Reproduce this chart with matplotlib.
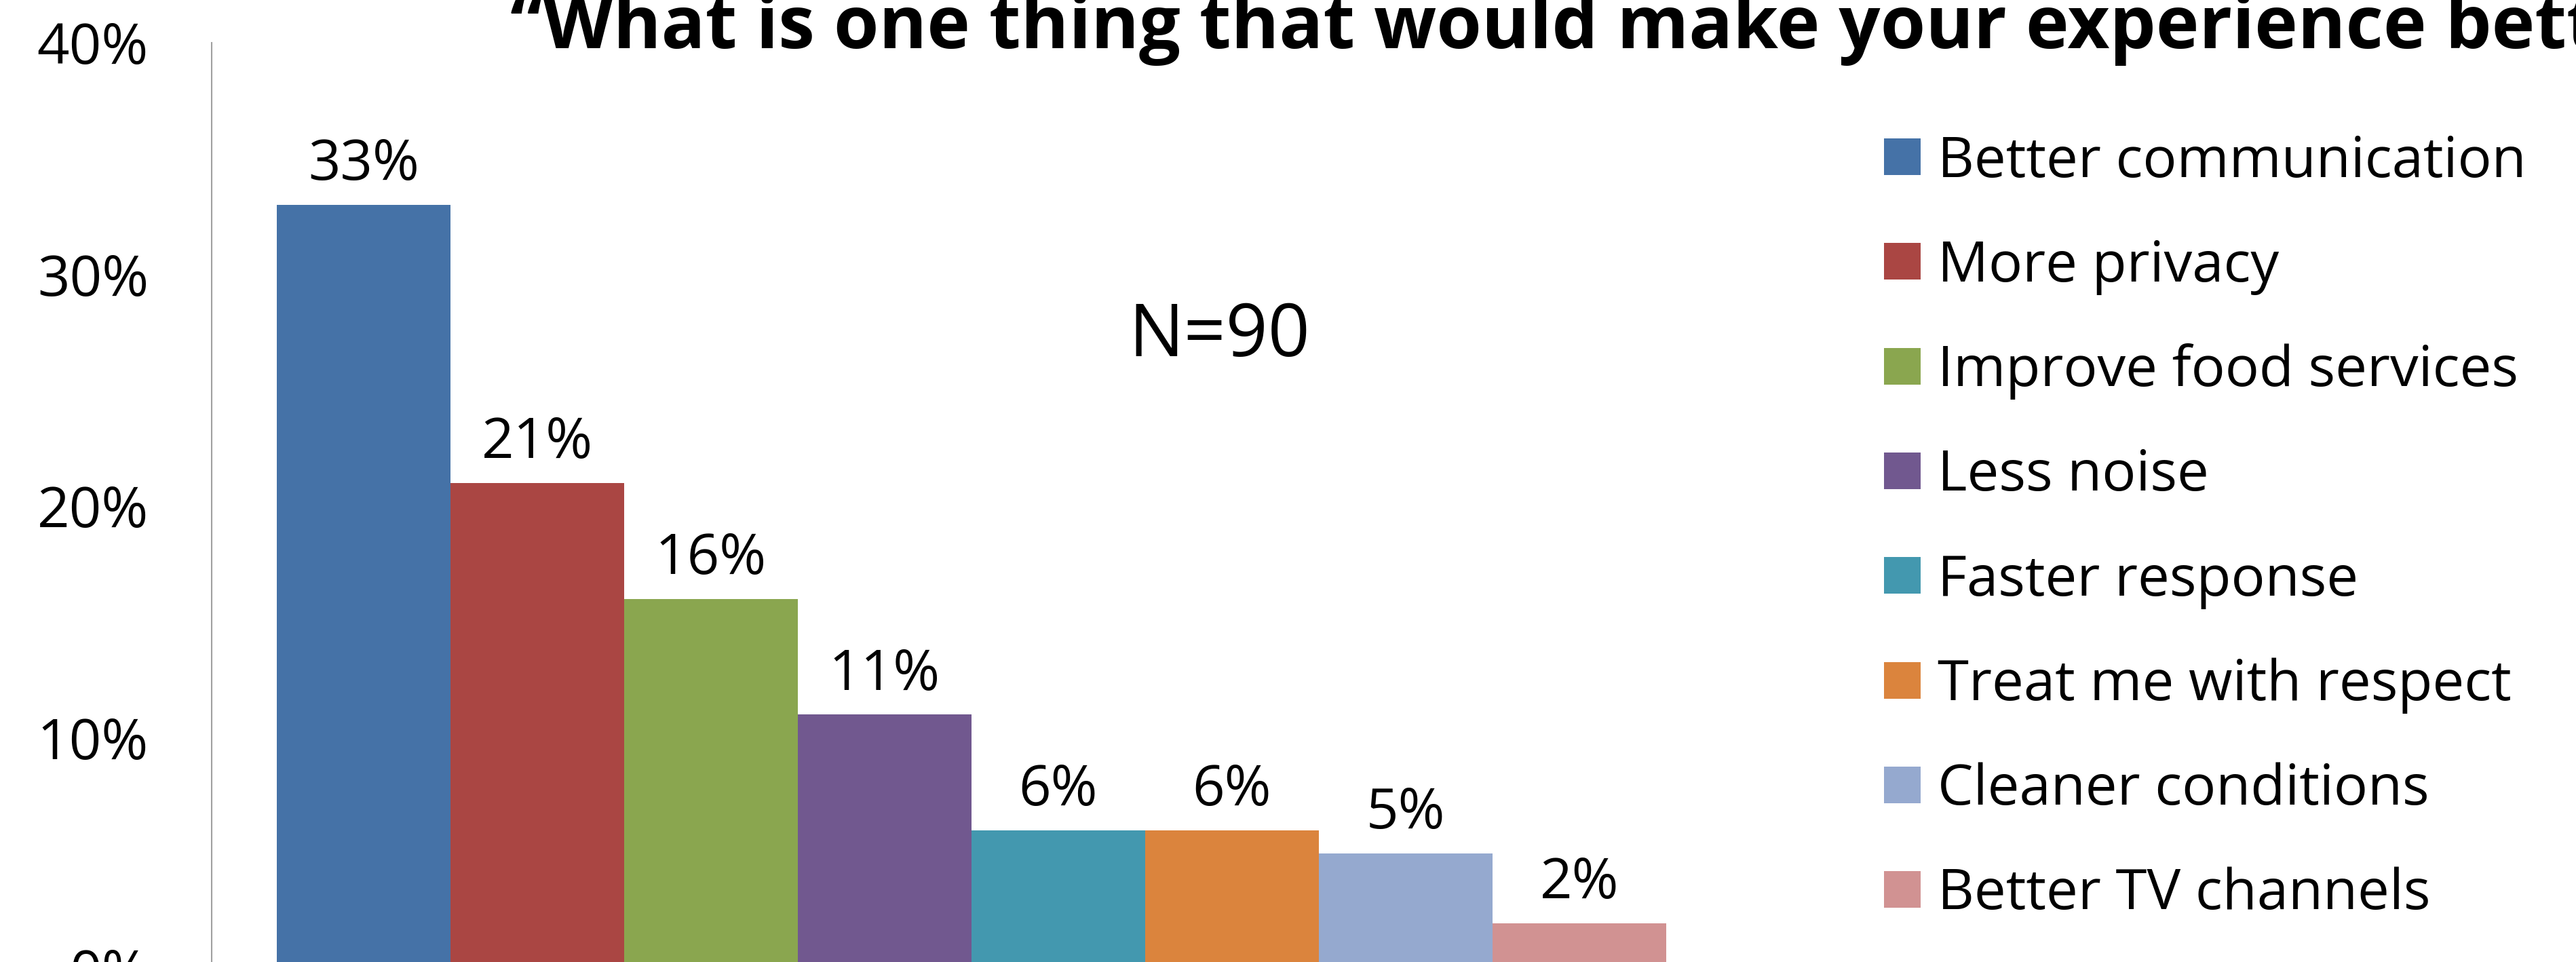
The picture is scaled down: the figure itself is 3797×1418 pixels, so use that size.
import matplotlib
matplotlib.use('Agg')
import matplotlib.pyplot as plt
from matplotlib.patches import Patch

plt.rcParams['font.family'] = ['Open Sans', 'DejaVu Sans']

# survey answers, percent of respondents
categories = ['Better communication', 'More privacy', 'Improve food services', 'Less noise',
              'Faster response', 'Treat me with respect', 'Cleaner conditions', 'Better TV channels']
values = [33, 21, 16, 11, 6, 6, 5, 2]
colors = ['#4572A7', '#AA4643', '#8AA64F', '#71588F', '#4398AF', '#DB843D', '#95A9CF', '#D19292']
yticks = [0, 10, 20, 30, 40]
title = '\u201cWhat is one thing that would make your experience better?\u201d'
note = 'N=90'

W, H = 3797, 1418
fig = plt.figure(figsize=(W / 100, H / 100), dpi=100)

# axes box in pixels: x 312..2552, y 63..1429 (from top)
ax = fig.add_axes([312 / W, 1 - 1429 / H, (2552 - 312) / W, (1429 - 63) / H])
x = list(range(len(values)))
bars = ax.bar(x, values, width=1.0, color=colors)
ax.set_xlim(-0.875, 7.875)
ax.set_ylim(0, 40)
ax.set_yticks(yticks)
ax.set_yticklabels([f'{t}%' for t in yticks])
ax.set_xticks([])
ax.tick_params(axis='y', length=0, pad=67, labelsize=60)
for s in ['top', 'right', 'bottom']:
    ax.spines[s].set_visible(False)
ax.spines['left'].set_color('#A0A0A0')
ax.spines['left'].set_linewidth(1.5)

for xi, v in zip(x, values):
    ax.annotate(f'{v}%', (xi, v), xytext=(0, 26.5), textcoords='offset points',
                ha='center', va='baseline', fontsize=60)

# title runs off the top and right edge like in the source image
fig.text(752 / W, 1 - 71 / H, title, ha='left', va='baseline', fontsize=77.5, fontweight='bold')
fig.text(1797 / W, 1 - 525 / H, note, ha='center', va='baseline', fontsize=78)

handles = [Patch(facecolor=c) for c in colors]
fig.legend(handles, categories, loc='upper left', bbox_to_anchor=(2777 / W, 1 - 198 / H),
           frameon=False, fontsize=60, borderpad=0, borderaxespad=0,
           handlelength=0.65, handleheight=0.62, handletextpad=0.3, labelspacing=0.86)

fig.savefig('out.png', dpi=100)
